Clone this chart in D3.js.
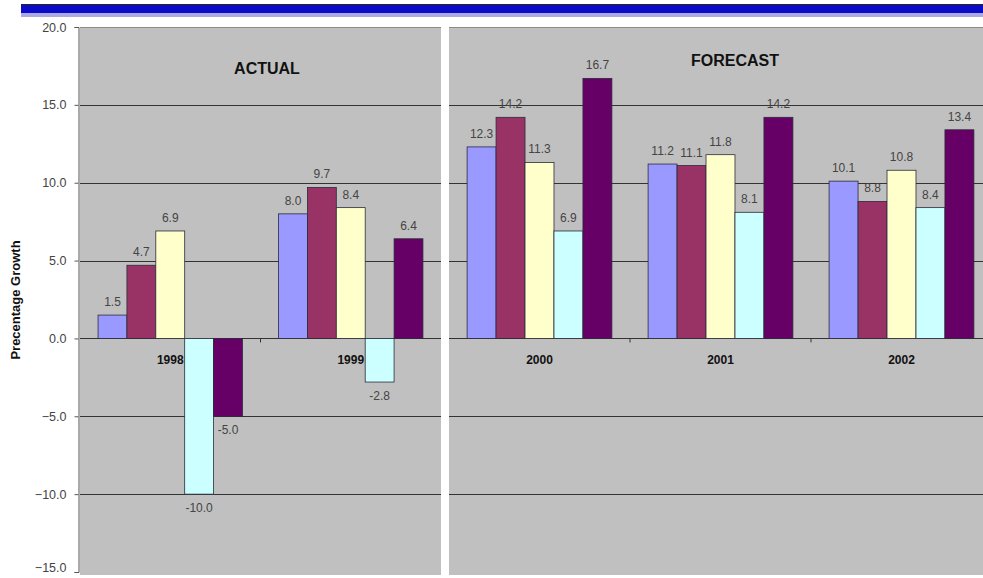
<!DOCTYPE html>
<html>
<head>
<meta charset="utf-8">
<script src="https://cdn.jsdelivr.net/npm/d3@7"></script>
<style>
  html, body { margin: 0; padding: 0; background: #fff; }
  svg { display: block; font-family: Arial, "Liberation Sans", sans-serif; }
</style>
</head>
<body>
<div id="chart"></div>
<script>
// Percentage growth, actual vs forecast
const actualYears = ['1998', '1999'];
const forecastYears = ['2000', '2001', '2002'];
const seriesKeys = ['s1', 's2', 's3', 's4', 's5'];
const seriesColors = ['#9999ff', '#993366', '#ffffcc', '#ccffff', '#660066'];

// one array per series, values for 1998..2002
const s1 = [1.5, 8.0, 12.3, 11.2, 10.1];
const s2 = [4.7, 9.7, 14.2, 11.1, 8.8];
const s3 = [6.9, 8.4, 11.3, 11.8, 10.8];
const s4 = [-10.0, -2.8, 6.9, 8.1, 8.4];
const s5 = [-5.0, 6.4, 16.7, 14.2, 13.4];

const yTicks = [20, 15, 10, 5, 0, -5, -10, -15];
const panelTitles = ['ACTUAL', 'FORECAST'];
const yTitle = 'Precentage Growth';

const width = 983, height = 578;
const allYears = actualYears.concat(forecastYears);
const allSeries = [s1, s2, s3, s4, s5];

const svg = d3.select('#chart').append('svg')
    .attr('width', width)
    .attr('height', height);

// top banner stripes
svg.append('rect').attr('x', 21).attr('y', 4).attr('width', width - 21).attr('height', 2).attr('fill', '#1a1a6e');
svg.append('rect').attr('x', 21).attr('y', 6).attr('width', width - 21).attr('height', 7).attr('fill', '#0a0ac8');
svg.append('rect').attr('x', 21).attr('y', 13).attr('width', width - 21).attr('height', 4).attr('fill', '#a9a9e6');

const y = d3.scaleLinear().domain([-15, 20]).range([572, 27]);

function drawPanel(years, x0, x1, title, titleY) {
    const g = svg.append('g');
    const x = d3.scaleBand().domain(years).range([x0, x1]).padding(0);
    const bw = x.bandwidth();
    const xs = d3.scaleBand().domain(seriesKeys).range([bw * 0.1, bw * 0.9]).padding(0);

    g.append('rect')
        .attr('x', x0).attr('y', y(20))
        .attr('width', Math.min(x1, width) - x0).attr('height', y(-15) - y(20) + 3)
        .attr('fill', '#c0c0c0');

    // gridlines
    g.selectAll('line.grid')
        .data(yTicks.filter(t => t > -15))
        .join('line')
        .attr('class', 'grid')
        .attr('x1', x0).attr('x2', Math.min(x1, width))
        .attr('y1', d => Math.round(y(d)) + 0.5)
        .attr('y2', d => Math.round(y(d)) + 0.5)
        .attr('stroke', d => d === 20 ? '#8a8a8a' : '#333')
        .attr('stroke-width', 1);

    // small ticks between categories
    g.selectAll('line.xtick')
        .data(years.slice(1))
        .join('line')
        .attr('class', 'xtick')
        .attr('x1', d => x(d)).attr('x2', d => x(d))
        .attr('y1', y(0)).attr('y2', y(0) + 4)
        .attr('stroke', '#333');

    // category labels (drawn below the bars)
    g.selectAll('text.cat')
        .data(years)
        .join('text')
        .attr('class', 'cat')
        .attr('x', d => x(d) + bw / 2)
        .attr('y', y(0) + 26)
        .attr('text-anchor', 'middle')
        .attr('font-size', '12px')
        .attr('font-weight', 'bold')
        .attr('fill', '#111')
        .text(d => d);

    const rows = [];
    years.forEach(yr => {
        const i = allYears.indexOf(yr);
        seriesKeys.forEach((k, j) => rows.push({ year: yr, key: k, color: seriesColors[j], value: allSeries[j][i] }));
    });

    g.selectAll('rect.bar')
        .data(rows)
        .join('rect')
        .attr('class', 'bar')
        .attr('x', d => x(d.year) + xs(d.key))
        .attr('width', xs.bandwidth())
        .attr('y', d => y(Math.max(0, d.value)))
        .attr('height', d => Math.abs(y(d.value) - y(0)))
        .attr('fill', d => d.color)
        .attr('stroke', '#2b2b3a')
        .attr('stroke-width', 0.8);

    g.selectAll('text.val')
        .data(rows)
        .join('text')
        .attr('class', 'val')
        .attr('x', d => x(d.year) + xs(d.key) + xs.bandwidth() / 2)
        .attr('y', d => d.value >= 0 ? y(d.value) - 9 : y(d.value) + 18)
        .attr('text-anchor', 'middle')
        .attr('font-size', '12px')
        .attr('fill', '#444')
        .text(d => d.value.toFixed(1));

    g.append('text')
        .attr('x', title === 'ACTUAL' ? 267 : 735)
        .attr('y', titleY)
        .attr('text-anchor', 'middle')
        .attr('font-size', '16px')
        .attr('font-weight', 'bold')
        .attr('fill', '#111')
        .text(title);
}

drawPanel(actualYears, 80, 441, panelTitles[0], 74);
drawPanel(forecastYears, 449, 992, panelTitles[1], 66);

// y axis
const yAxis = d3.axisLeft(y).tickValues(yTicks).tickSize(4).tickFormat(d3.format('.1f'));
const ax = svg.append('g').attr('transform', 'translate(78.5,0)').call(yAxis);
ax.select('.domain').attr('stroke', '#555');
ax.selectAll('.tick line').attr('stroke', '#555');
ax.selectAll('.tick text')
    .attr('x', -12)
    .attr('font-size', '12.5px')
    .attr('font-family', 'Arial, "Liberation Sans", sans-serif')
    .attr('fill', '#444')
    .attr('dy', d => d === -15 ? '-0.05em' : '0.32em');

svg.append('text')
    .attr('transform', 'translate(20,300) rotate(-90)')
    .attr('text-anchor', 'middle')
    .attr('font-size', '13px')
    .attr('font-weight', 'bold')
    .attr('fill', '#111')
    .text(yTitle);
</script>
</body>
</html>
